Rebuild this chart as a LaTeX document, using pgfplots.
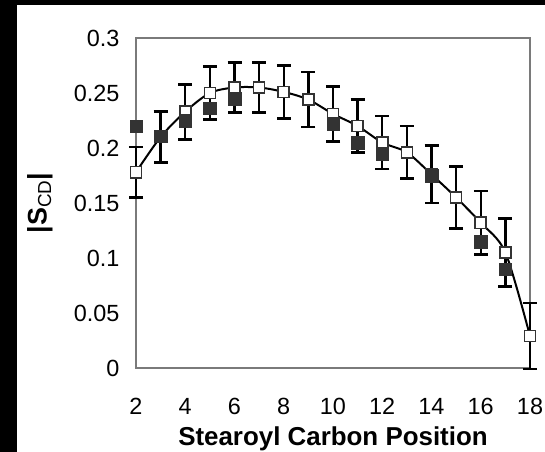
\documentclass[border=0pt]{standalone}
\usepackage{fontspec}
\setmainfont{Liberation Sans}
\usepackage{pgfplots}
\usepackage{pgfplotstable}
\pgfplotsset{compat=1.18}
\definecolor{axgray}{HTML}{7A7A7A}
\definecolor{markdark}{HTML}{333333}

% open squares (with error bars)
\pgfplotstableread{
x y e
2 0.178 0.023
3 0.210 0.023
4 0.233 0.025
5 0.250 0.024
6 0.255 0.023
7 0.255 0.023
8 0.251 0.024
9 0.244 0.025
10 0.231 0.025
11 0.220 0.024
12 0.205 0.024
13 0.196 0.024
14 0.176 0.026
15 0.155 0.028
16 0.132 0.029
17 0.105 0.031
18 0.029 0.030
}\opendata

% filled squares
\pgfplotstableread{
x y
2 0.220
3 0.211
4 0.225
5 0.236
6 0.245
10 0.222
11 0.205
12 0.195
14 0.175
16 0.115
17 0.090
}\filleddata

\begin{document}
\begin{tikzpicture}
\useasboundingbox (0,0) rectangle (545bp,452bp);
\fill[black] (0,0) rectangle (545bp,452bp);
\fill[white] (17bp,0) rectangle (545bp,447bp);
\begin{axis}[
  at={(136bp,84bp)}, anchor=south west,
  scale only axis, width=394bp, height=330bp,
  xmin=2, xmax=18, ymin=0, ymax=0.3,
  xtick={2,4,...,18}, xticklabels={2,4,6,8,10,12,14,16,18},
  ytick={0,0.05,0.1,0.15,0.2,0.25,0.3},
  yticklabels={0,0.05,0.1,0.15,0.2,0.25,0.3},
  major tick length=0pt,
  axis line style={axgray, line width=1.5bp},
  ticklabel style={font=\fontsize{23.5}{26}\selectfont},
  yticklabel style={xshift=-13bp},
  xticklabel style={yshift=-27bp},
  xlabel={Stearoyl Carbon Position},
  xlabel style={font=\fontsize{26}{29}\selectfont\bfseries,
    at={(axis description cs:0.5,-0.215)}, anchor=center},
  ylabel={\textbf{|S}\textsubscript{CD}\textbf{|}},
  ylabel style={font=\fontsize{27}{30}\selectfont,
    at={(axis description cs:-0.244,0.5)}, anchor=center},
  clip=false,
]
\addplot[black, line width=2bp, smooth, tension=0.5] table[x=x,y=y]{\opendata};
\addplot[only marks, mark=square*, mark size=5.5bp,
  mark options={fill=white, draw=markdark, line width=1.6bp},
  error bars/.cd, y dir=both, y explicit,
  error bar style={black, line width=2.4bp},
  error mark options={rotate=90, black, mark size=7bp, line width=2.6bp}]
  table[x=x,y=y,y error=e]{\opendata};
\addplot[only marks, mark=square*, mark size=6.2bp,
  mark options={fill=markdark, draw=markdark}]
  table[x=x,y=y]{\filleddata};
\end{axis}
\end{tikzpicture}
\end{document}
